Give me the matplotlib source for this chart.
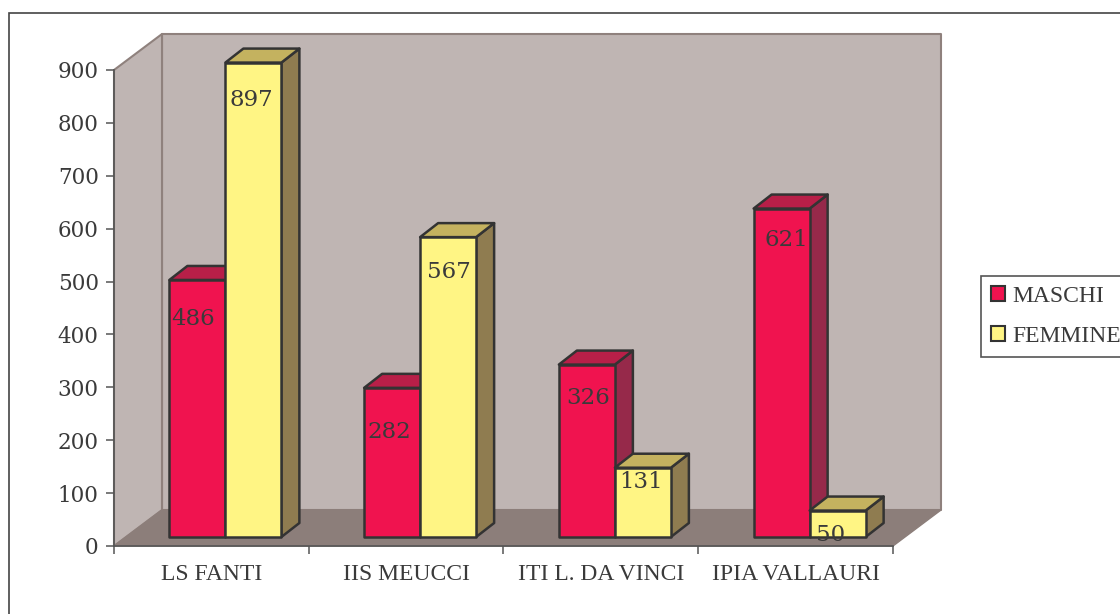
import matplotlib
matplotlib.use('Agg')
import matplotlib.pyplot as plt
from matplotlib.patches import Patch, Polygon, Rectangle

schools = ['LS FANTI', 'IIS MEUCCI', 'ITI L. DA VINCI', 'IPIA VALLAURI']
maschi = [486, 282, 326, 621]
femmine = [897, 567, 131, 50]
y_ticks = [0, 100, 200, 300, 400, 500, 600, 700, 800, 900]

W, H = 1120, 614
INK = '#3a3a3a'
SERIF = 'Liberation Serif'
DIGITS = 'DejaVu Serif'

fig = plt.figure(figsize=(W / 100, H / 100), dpi=100)
fig.patch.set_facecolor('white')
fig.add_artist(Rectangle((9 / W, -0.05), 1.1, 1.05 - 13 / H, transform=fig.transFigure,
                         fc='none', ec='#444444', lw=1.2))

# axes box = front edge of the floor, in pixels
ax = fig.add_axes([114 / W, 1 - 546 / H, (893 - 114) / W, (546 - 70) / H])
ax.set_xlim(0, 4)
ax.set_ylim(0, 900)
ax.patch.set_visible(False)

ux = 4 / (893 - 114)    # category units per pixel
uy = 900 / (546 - 70)   # value units per pixel


def poly(pts, fc, ec, lw=1.8, z=2):
    ax.add_patch(Polygon(pts, closed=True, fc=fc, ec=ec, lw=lw, zorder=z,
                         clip_on=False, joinstyle='round'))


# walls and floor
wx, wy = 48 * ux, 36 * uy
wall, floor, wall_edge = '#bfb5b3', '#8c7e7a', '#8f817d'
poly([(wx, wy), (4 + wx, wy), (4 + wx, 900 + wy), (wx, 900 + wy)], wall, wall_edge, 1.5, 1)
poly([(0, 0), (wx, wy), (wx, 900 + wy), (0, 900)], wall, wall_edge, 1.5, 1)
poly([(0, 0), (4, 0), (4 + wx, wy), (wx, wy)], floor, floor, 1, 1)

bar_w = 56 * ux
sx, sy = 14 * ux, 9 * uy        # bars stand a little behind the front edge
dx, dy = 18 * ux, 14 * uy       # bar depth


def bar3d(x0, v, front, side, top):
    x1 = x0 + bar_w
    y0 = sy
    y1 = v + sy
    poly([(x1, y0), (x1 + dx, y0 + dy), (x1 + dx, y1 + dy), (x1, y1)], side, '#333333')
    poly([(x0, y1), (x1, y1), (x1 + dx, y1 + dy), (x0 + dx, y1 + dy)], top, '#333333')
    poly([(x0, y0), (x1, y0), (x1, y1), (x0, y1)], front, '#333333')


# label offsets from the bar top centre, pixels
drop_m = [39, 44, 33, 31]
drop_f = [37, 35, 14, 24]
shift_m = [-4, -3, 1, 5]
shift_f = [-2, 1, -2, -7]

for i in range(len(schools)):
    c = i + 0.5 + sx
    bar3d(c - bar_w, maschi[i], '#f0134f', '#96294a', '#b81f48')
    bar3d(c, femmine[i], '#fff584', '#8f7c50', '#c4b25f')
    ax.annotate(str(maschi[i]), (c - bar_w / 2, maschi[i] + sy),
                xytext=(shift_m[i] * 0.72, -drop_m[i] * 0.72),
                textcoords='offset points', ha='center', va='center', family=DIGITS,
                fontsize=16.5, color=INK, zorder=5, annotation_clip=False)
    ax.annotate(str(femmine[i]), (c + bar_w / 2, femmine[i] + sy),
                xytext=(shift_f[i] * 0.72, -drop_f[i] * 0.72),
                textcoords='offset points', ha='center', va='center', family=DIGITS,
                fontsize=16.5, color=INK, zorder=5, annotation_clip=False)

for s in ['top', 'right']:
    ax.spines[s].set_visible(False)
for s in ['left', 'bottom']:
    ax.spines[s].set_color('#555555')
    ax.spines[s].set_linewidth(1.2)
    ax.spines[s].set_zorder(3)

ax.set_yticks(y_ticks)
ax.set_yticklabels([str(v) for v in y_ticks], family=DIGITS, fontsize=15.5, color=INK)
ax.set_xticks(range(len(schools) + 1))
ax.set_xticklabels([])
ax.set_xticks([i + 0.5 for i in range(len(schools))], minor=True)
ax.set_xticklabels(schools, minor=True, family=SERIF, fontsize=17, color=INK)
ax.tick_params(axis='both', which='major', length=6, width=1.1, color='#555555')
ax.tick_params(axis='y', pad=5)
ax.tick_params(axis='x', which='minor', length=0, pad=13)

handles = [Patch(fc='#f0134f', ec='#333333', lw=1.5, label='MASCHI'),
           Patch(fc='#fff584', ec='#333333', lw=1.5, label='FEMMINE')]
leg = fig.legend(handles=handles, loc='upper left', bbox_to_anchor=(981 / W, 1 - 276 / H),
                 borderaxespad=0, frameon=True, fancybox=False, edgecolor='#555555',
                 prop={'family': SERIF, 'size': 17}, labelcolor=INK,
                 handlelength=0.6, handleheight=0.6, handletextpad=0.3,
                 labelspacing=0.8, borderpad=0.42)
leg.get_frame().set_linewidth(1.2)
leg.get_frame().set_alpha(1)

fig.savefig('out.png', dpi=100)
